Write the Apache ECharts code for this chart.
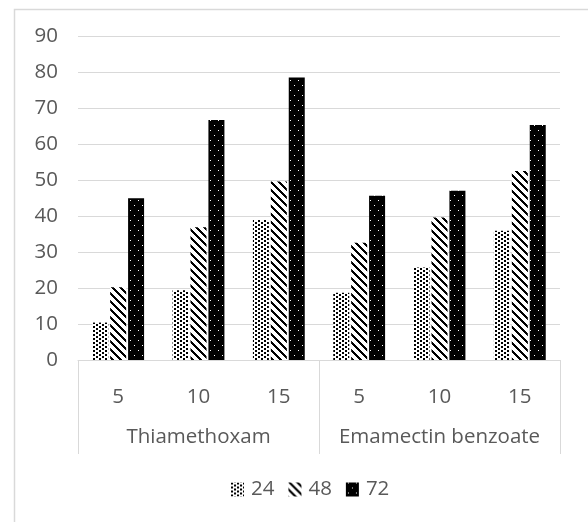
<!DOCTYPE html>
<html>
<head>
<meta charset="utf-8">
<script src="https://cdn.jsdelivr.net/npm/echarts@6/dist/echarts.min.js"></script>
<style>
  html, body { margin: 0; padding: 0; background: #fff; }
  #chart { width: 588px; height: 522px; }
</style>
</head>
<body>
<div id="chart"></div>
<script>
// doses (x categories) and the product groups under them
let categories = ['5', '10', '15', '5', '10', '15'];
let groups = ['Thiamethoxam', 'Emamectin benzoate'];
let seriesNames = ['24', '48', '72'];
// mortality values, one array per exposure time
let h24 = [10.4, 19.4, 38.9, 18.7, 25.7, 35.9];
let h48 = [20.2, 36.9, 49.6, 32.6, 39.6, 52.5];
let h72 = [44.9, 66.7, 78.5, 45.6, 47.0, 65.3];
let yTicks = [0, 10, 20, 30, 40, 50, 60, 70, 80, 90];

let textColor = '#595959';
let lineColor = '#d9d9d9';
let fontFamily = '"Open Sans", "Noto Sans", sans-serif';

// little canvas tiles used as bar fills
function makeTile(w, h, isBlack) {
    let c = document.createElement('canvas');
    c.width = w;
    c.height = h;
    let ctx = c.getContext('2d');
    let img = ctx.createImageData(w, h);
    for (let y = 0; y < h; y++) {
        for (let x = 0; x < w; x++) {
            let i = (y * w + x) * 4;
            let v = isBlack(x, y) ? 0 : 255;
            img.data[i] = v;
            img.data[i + 1] = v;
            img.data[i + 2] = v;
            img.data[i + 3] = 255;
        }
    }
    ctx.putImageData(img, 0, 0);
    return c;
}

// confetti-like dots, 2px blocks staggered
let dotTile = makeTile(6, 4, function (x, y) {
    return (x < 2 && y < 2) || (x >= 3 && x < 5 && y >= 2);
});
// wide downward diagonal
let hatchTile = makeTile(8, 8, function (x, y) {
    return (((x - y) % 8) + 8) % 8 < 3;
});
// black with tiny white dots
let blackTile = makeTile(8, 10, function (x, y) {
    return !((x === 2 && y === 0) || (x === 6 && y === 5));
});

let fills = [
    { image: dotTile, repeat: 'repeat' },
    { image: hatchTile, repeat: 'repeat' },
    { image: blackTile, repeat: 'repeat' }
];
let values = [h24, h48, h72];

let chart = echarts.init(document.getElementById('chart'), null, { renderer: 'canvas' });

let option = {
    backgroundColor: '#fff',
    animation: false,
    textStyle: { fontFamily: fontFamily },
    graphic: [{
        type: 'rect',
        shape: { x: 14.5, y: 9.5, width: 620, height: 560 },
        style: { fill: 'none', stroke: lineColor, lineWidth: 1.5 },
        silent: true
    }],
    grid: { left: 78, right: 28, top: 36, bottom: 162 },
    legend: {
        data: seriesNames,
        bottom: 17,
        left: 226,
        itemWidth: 13,
        itemHeight: 14,
        itemGap: 14,
        icon: 'rect',
        textStyle: { color: textColor, fontSize: 20.5, fontFamily: fontFamily, padding: [0, 0, 0, 2] }
    },
    xAxis: [
        {
            type: 'category',
            data: categories,
            axisLine: { lineStyle: { color: lineColor, width: 1 } },
            axisTick: { show: false },
            axisLabel: { color: textColor, fontSize: 20.5, margin: 27, interval: 0, fontFamily: fontFamily }
        },
        {
            type: 'category',
            data: groups,
            position: 'bottom',
            axisLine: { show: false },
            axisTick: { show: true, length: 94, interval: 0, lineStyle: { color: lineColor, width: 1 } },
            axisLabel: { color: textColor, fontSize: 20.5, margin: 67, interval: 0, fontFamily: fontFamily }
        }
    ],
    yAxis: {
        type: 'value',
        min: yTicks[0],
        max: yTicks[yTicks.length - 1],
        interval: yTicks[1] - yTicks[0],
        axisLine: { show: false },
        axisTick: { show: false },
        axisLabel: { color: textColor, fontSize: 20.5, margin: 20, fontFamily: fontFamily },
        splitLine: { lineStyle: { color: lineColor, width: 1 } }
    },
    series: seriesNames.map(function (name, i) {
        return {
            name: name,
            type: 'bar',
            data: values[i],
            barWidth: 16,
            barGap: '12%',
            itemStyle: { color: fills[i] }
        };
    })
};

chart.setOption(option);
</script>
</body>
</html>
